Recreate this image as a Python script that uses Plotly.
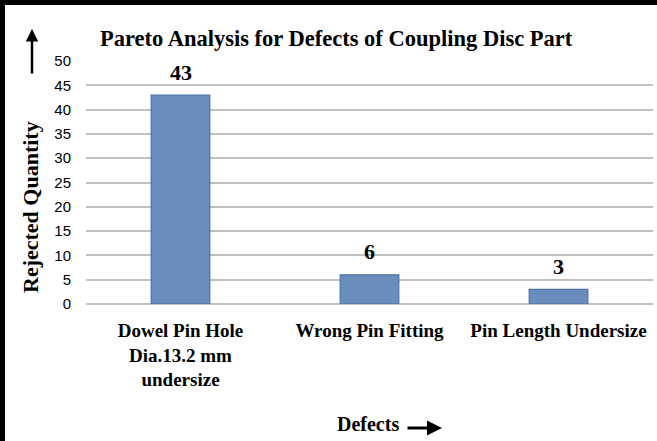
import plotly.graph_objects as go

categories = ["Dowel Pin Hole<br>Dia.13.2 mm<br>undersize", "Wrong Pin Fitting", "Pin Length Undersize"]
values = [43, 6, 3]
y_ticks = [0, 5, 10, 15, 20, 25, 30, 35, 40, 45, 50]

W, H = 657, 441
L, R, T, B = 86, 4, 61, 137
pw, ph = W - L - R, H - T - B

def px(x):
    return (x - L) / pw

def py(y):
    return (H - B - y) / ph

serif = "Liberation Serif, Times New Roman, serif"
sans = "Liberation Sans, Arial, sans-serif"

fig = go.Figure()
fig.add_trace(go.Bar(
    x=categories, y=values, width=0.31,
    marker=dict(color="#6A8DBE", line=dict(color="#4A73A3", width=1.2)),
    hoverinfo="skip",
))

for c, v in zip(categories, values):
    fig.add_annotation(x=c, y=v, text="<b>" + str(v) + "</b>", showarrow=False, yshift=23,
                       yanchor="middle", font=dict(family=serif, size=22, color="black"))

# title
fig.add_annotation(x=px(336), y=py(38), xref="paper", yref="paper", text="<b>Pareto Analysis for Defects of Coupling Disc Part</b>",
                   showarrow=False, font=dict(family=serif, size=22.5, color="black"), xanchor="center", yanchor="middle")
# y title
fig.add_annotation(x=px(31), y=py(207), xref="paper", yref="paper", text="<b>Rejected Quantity</b>", textangle=-90,
                   showarrow=False, font=dict(family=serif, size=22, color="black"), xanchor="center", yanchor="middle")
# up arrow
fig.add_annotation(x=px(32), y=py(29), xref="paper", yref="paper", text="", showarrow=True,
                   ax=0, ay=46, arrowhead=2, arrowwidth=2.5, arrowsize=1, arrowcolor="black")
# x title
fig.add_annotation(x=px(401), y=py(424), xref="paper", yref="paper", text="<b>Defects</b>",
                   showarrow=False, font=dict(family=serif, size=20, color="black"), xanchor="right", yanchor="middle")
fig.add_annotation(x=px(442), y=py(428), xref="paper", yref="paper", text="", showarrow=True,
                   ax=-36, ay=0, arrowhead=2, arrowwidth=3, arrowsize=1, arrowcolor="black")

# frame (left and top borders)
fig.add_shape(type="line", xref="paper", yref="paper", x0=px(2.5), x1=px(2.5), y0=py(0), y1=py(450),
              line=dict(color="black", width=5))
fig.add_shape(type="line", xref="paper", yref="paper", x0=px(0), x1=px(665), y0=py(2.5), y1=py(2.5),
              line=dict(color="black", width=5))

fig.update_layout(
    width=W, height=H,
    margin=dict(l=L, r=R, t=T, b=B),
    plot_bgcolor="white", paper_bgcolor="white",
    showlegend=False,
    xaxis=dict(showgrid=False, showline=False, ticks="outside", ticklen=9, tickcolor="rgba(0,0,0,0)",
               tickfont=dict(family=serif, size=19, color="black"), tickangle=0,
               ticktext=["<b>" + t.replace("<br>", "</b><br><b>") + "</b>" for t in categories],
               tickvals=categories),
    yaxis=dict(range=[0, 50], tickvals=y_ticks, showgrid=True, gridcolor="#BFBFBF", gridwidth=1.5,
               zeroline=True, zerolinecolor="#BFBFBF", zerolinewidth=1.5, showline=False,
               ticks="outside", ticklen=11, tickcolor="rgba(0,0,0,0)",
               tickfont=dict(family=sans, size=15, color="black"),
               tickprefix="<b>", ticksuffix="</b>"),
)

fig.write_html("out.html", config={"displayModeBar": False},
               post_script="document.body.style.margin='0';")
